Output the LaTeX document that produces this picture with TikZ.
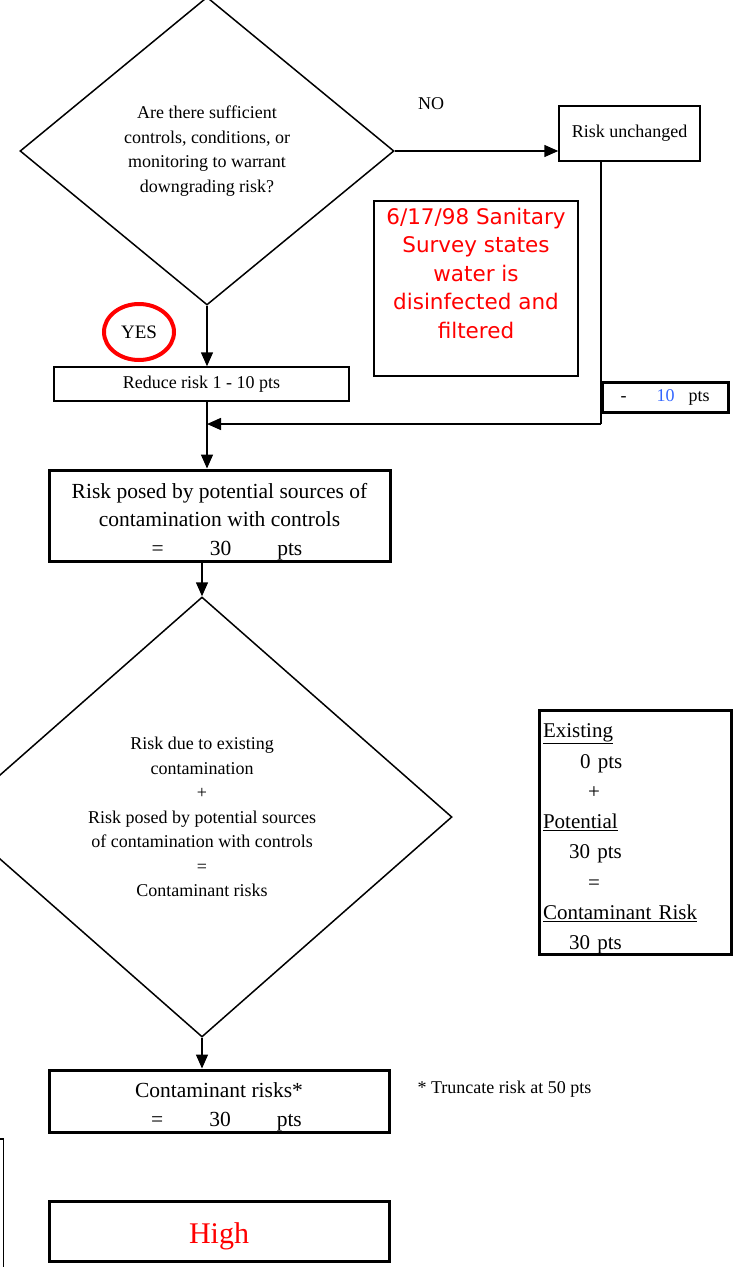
\documentclass[tikz,border=0pt]{standalone}
\usepackage{fontspec}
\setmainfont{Liberation Serif}
\newfontfamily\notefont{DejaVu Sans}
\usetikzlibrary{shapes.geometric,arrows.meta}
\definecolor{ptsblue}{RGB}{51,102,255}
\begin{document}
\begin{tikzpicture}[x=1pt,y=-1pt,
  decision/.style={diamond,draw,line width=1.5pt,inner sep=0pt,align=center,font=\fontsize{18}{24.5}\selectfont},
  thinbox/.style={draw,line width=1.5pt,inner sep=0pt,align=center,font=\fontsize{18}{24.5}\selectfont},
  thickbox/.style={draw,line width=3pt,inner sep=0pt,align=center,font=\fontsize{21.5}{28.5}\selectfont},
  flow/.style={line width=1.5pt,-{Triangle[length=14pt,width=12pt]}}]
\useasboundingbox (0,0) rectangle (740,1267);
\clip (0,0) rectangle (740,1267);

\node[decision,minimum width=374,minimum height=308] (ask) at (207,151) {Are there sufficient\\controls, conditions, or\\monitoring to warrant\\downgrading risk?};
\node[font=\fontsize{18}{22}\selectfont] (no) at (431,104) {NO};
\node[thinbox,minimum width=141,minimum height=55] (same) at (629.5,133.5) {Risk unchanged};

\node[draw,line width=1.5pt,minimum width=204,minimum height=175] (note) at (476,288.5) {};
\node[red,align=center,font=\notefont\fontsize{21.5}{28.5}\selectfont] (notetext) at (476,273) {6/17/98 Sanitary\\Survey states\\water is\\disinfected and\\filtered};

\node[draw=red,ellipse,line width=4pt,minimum width=70,minimum height=56,inner sep=0pt,font=\fontsize{19}{22}\selectfont] (yes) at (139,332) {YES};
\node[thinbox,minimum width=295,minimum height=34] (reduce) at (201.5,384) {Reduce risk 1 - 10 pts};
\node[thickbox,minimum width=126,minimum height=30,font=\fontsize{18}{22}\selectfont] (cut) at (665,397) {-\hspace{30pt}\textcolor{ptsblue}{10}\hspace{14pt}pts};

\coordinate (turn) at (601,424);
\coordinate (join) at (207,424);

\node[thickbox,minimum width=341,minimum height=91] (risk) at (219.5,515.5) {\rule{0pt}{27pt}Risk posed by potential sources of\\contamination with controls\\\hspace*{15pt}=\hspace{46pt}30\hspace{46pt}pts};

\node[decision,minimum width=500,minimum height=440] (sum) at (202,817) {Risk due to existing\\contamination\\+\\Risk posed by potential sources\\of contamination with controls\\=\\Contaminant risks};

\node[thickbox,minimum height=241,text width=184,inner xsep=4pt,align=left,font=\fontsize{21}{30.3}\selectfont] (tally) at (635,832.5) {\rule{0pt}{27pt}\underline{Existing}\\
\hspace*{37pt}0\hspace{0.35em}pts\\
\hspace*{45pt}+\\
\underline{Potential}\\
\hspace*{26pt}30\hspace{0.35em}pts\\
\hspace*{45pt}=\\
\underline{Contaminant Risk}\\
\hspace*{26pt}30\hspace{0.35em}pts};

\node[thickbox,minimum width=340,minimum height=62] (total) at (219,1101) {\rule{0pt}{27pt}Contaminant risks*\\\hspace*{15pt}=\hspace{46pt}30\hspace{46pt}pts};
\node[anchor=west,font=\fontsize{18}{22}\selectfont] (trunc) at (414,1089) {* Truncate risk at 50 pts};
\node[thickbox,minimum width=340,minimum height=60,red,draw=black,font=\fontsize{30}{34}\selectfont] (level) at (219,1231) {\rule{0pt}{31pt}High};
\node[thinbox,minimum width=30,minimum height=160,anchor=north east] (side) at (4,1138) {};

\draw[flow] (ask.east) -- (ask.east -| same.west);
\draw[flow] (ask.south) -- (ask.south |- reduce.north);
\draw[line width=1.5pt] (turn |- same.south) -- (turn);
\draw[flow] (turn) -- (join);
\draw[flow] (join |- reduce.south) -- (join |- risk.north);
\draw[flow] (sum.north |- risk.south) -- (sum.north);
\draw[flow] (sum.south) -- (sum.south |- total.north);

\end{tikzpicture}
\end{document}
